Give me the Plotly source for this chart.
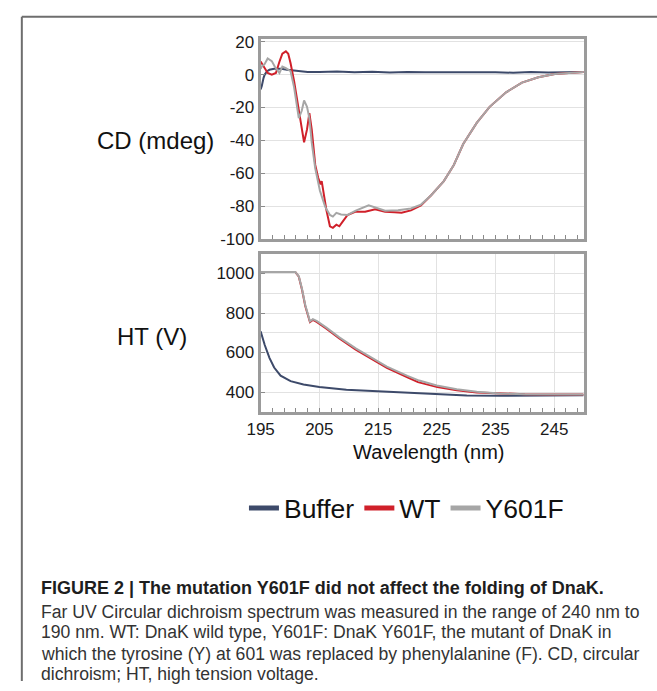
import plotly.graph_objects as go

# ---------------- data ----------------
# CD spectra (mdeg) vs wavelength (nm)
buffer_cd_x = [195.0, 195.2, 195.5, 195.7, 196.1, 196.5, 197.3, 198.5, 199.5, 200.5, 201.5, 203.0,
               205.0, 208.0, 211.0, 214.0, 217.0, 220.0, 223.0, 226.0, 229.0, 232.0, 235.0, 238.0,
               241.0, 244.0, 247.0, 250.0]
buffer_cd_y = [-9.0, -6.9, -2.0, 0.0, 2.0, 2.9, 3.5, 3.5, 3.0, 2.5, 2.0, 1.5,
               1.6, 1.8, 1.4, 1.7, 1.3, 1.6, 1.4, 1.5, 1.2, 1.6, 1.4, 1.1,
               1.5, 1.3, 1.6, 1.6]

wt_cd_x = [195.0, 195.2, 195.7, 196.2, 196.9, 197.6, 198.2, 198.7, 199.3, 199.7, 200.1, 200.7,
           201.5, 202.05, 202.4, 202.9, 203.3, 203.7, 204.3, 204.8, 205.2, 205.4, 205.7, 206.2,
           206.8, 207.3, 207.9, 208.4, 209.0, 209.8, 211.2, 212.8, 214.5, 216.2, 217.8, 219.0,
           220.6, 222.3, 224.0, 226.2, 227.9, 229.5, 231.8, 234.0, 236.8, 239.5, 242.3, 245.1,
           247.5, 250.0]
wt_cd_y = [8.0, 6.9, 3.9, 1.0, 0.0, 1.0, 7.8, 12.7, 14.1, 12.7, 6.9, -4.0,
           -21.6, -33.3, -41.2, -33.3, -23.5, -33.3, -54.9, -62.7, -66.7, -64.7, -72.5, -82.4,
           -92.2, -93.1, -91.2, -92.2, -89.2, -85.3, -83.3, -83.3, -81.8, -83.3, -83.7, -84.0,
           -82.5, -79.5, -73.5, -64.7, -54.9, -42.2, -29.4, -19.6, -10.8, -4.9, -1.6, 0.4,
           1.0, 1.6]

y601f_cd_x = [195.0, 195.2, 195.67, 196.2, 196.9, 197.4, 198.2, 198.7, 199.3, 200.1, 200.7, 201.2,
              201.5, 202.0, 202.4, 202.9, 203.3, 203.7, 204.3, 205.1, 206.0, 206.8, 207.3, 207.9,
              208.7, 209.8, 211.2, 213.4, 214.7, 216.2, 218.4, 220.6, 222.3, 224.0, 226.2, 227.9,
              229.5, 231.8, 234.0, 236.8, 239.5, 242.3, 245.1, 247.5, 250.0]
y601f_cd_y = [3.5, 4.9, 6.3, 9.8, 8.2, 4.9, 1.0, 4.9, 3.9, 2.0, -7.8, -20.6,
              -26.5, -22.0, -15.7, -19.6, -26.5, -41.2, -56.9, -70.6, -80.4, -85.3, -86.3, -84.0,
              -85.0, -85.3, -82.7, -79.4, -80.8, -82.7, -82.4, -81.4, -79.0, -73.5, -64.7, -54.9,
              -42.2, -29.4, -19.6, -10.8, -4.9, -1.6, 0.4, 1.0, 1.6]

# HT voltage (V) vs wavelength (nm)
buffer_ht_x = [195.0, 195.7, 196.5, 197.3, 198.4, 200.1, 202.3, 205.0, 209.6, 215.1, 221.8, 225.1,
               230.1, 235.7, 240.0, 245.0, 250.0]
buffer_ht_y = [707, 638, 573, 524, 483, 455, 438, 425, 412, 404, 392, 386,
               382, 381, 381, 382, 384]

wt_ht_x = [195.0, 200.9, 201.5, 202.05, 202.6, 203.2, 203.4, 203.9, 204.6, 206.2, 208.4, 211.2,
           214.0, 216.5, 220.0, 221.8, 225.1, 228.4, 231.8, 235.7, 240.0, 245.0, 250.0]
wt_ht_y = [1008, 1008, 984, 918, 836, 770, 754, 765, 754, 721, 671, 614,
           565, 522, 474, 450, 425, 409, 398, 392, 389, 388, 388]

y601f_ht_x = [195.0, 200.9, 201.5, 202.05, 202.6, 203.2, 203.4, 203.9, 204.6, 206.2, 208.4, 211.2,
              214.0, 216.5, 220.0, 222.0, 225.0, 228.4, 231.8, 235.7, 240.0, 245.0, 250.0]
y601f_ht_y = [1008, 1008, 986, 922, 840, 774, 758, 769, 759, 726, 677, 621,
              572, 529, 482, 458, 433, 414, 401, 393, 389, 388, 388]

series_names = ["Buffer", "WT", "Y601F"]
series_colors = ["#3d4a6a", "#d0202a", "#a6a6a6"]

x_range = [195, 250]
x_tickvals = [195, 205, 215, 225, 235, 245]
x_ticktext = ["195", "205", "215", "225", "235", "245"]
cd_range = [-100, 21.5]
cd_tickvals = [-100, -80, -60, -40, -20, 0, 20]
cd_ticktext = ["-100", "-80", "-60", "-40", "-20", "0", "20"]
ht_range = [300, 1100]
ht_tickvals = [400, 600, 800, 1000]
ht_ticktext = ["400", "600", "800", "1000"]

caption_lines = [
    "<b>FIGURE 2 | The mutation Y601F did not affect the folding of DnaK.</b>",
    "Far UV Circular dichroism spectrum was measured in the range of 240 nm to",
    "190 nm. WT: DnaK wild type, Y601F: DnaK Y601F, the mutant of DnaK in",
    "which the tyrosine (Y) at 601 was replaced by phenylalanine (F). CD, circular",
    "dichroism; HT, high tension voltage.",
]

# ---------------- figure ----------------
W, H = 657, 691
def px(x):
    return x / W
def py(y):
    return 1 - y / H

FONT = "Liberation Sans, Arial, sans-serif"
GRID = "#e2e2e2"
FRAME = "#9b9b9b"
TICKC = "#8a8a8a"

fig = go.Figure()

cd_data = [(buffer_cd_x, buffer_cd_y), (wt_cd_x, wt_cd_y), (y601f_cd_x, y601f_cd_y)]
ht_data = [(buffer_ht_x, buffer_ht_y), (wt_ht_x, wt_ht_y), (y601f_ht_x, y601f_ht_y)]

for (xs, ys), name, col in zip(cd_data, series_names, series_colors):
    fig.add_trace(go.Scatter(x=xs, y=ys, mode="lines", name=name, showlegend=False,
                             line=dict(color=col, width=2), xaxis="x", yaxis="y"))
for (xs, ys), name, col in zip(ht_data, series_names, series_colors):
    fig.add_trace(go.Scatter(x=xs, y=ys, mode="lines", name=name, showlegend=False,
                             line=dict(color=col, width=2), xaxis="x2", yaxis="y2"))
# legend entries (thicker line symbols as in the reference)
for name, col in zip(series_names, series_colors):
    fig.add_trace(go.Scatter(x=[None], y=[None], mode="lines", name=name, showlegend=True,
                             line=dict(color=col, width=5), xaxis="x2", yaxis="y2"))

xdom = [px(252), px(582)]
tickfont = dict(family=FONT, size=17, color="#1a1a1a")

fig.update_layout(
    width=W, height=H,
    margin=dict(l=0, r=0, t=0, b=0),
    paper_bgcolor="white", plot_bgcolor="white",
    font=dict(family=FONT, color="#1a1a1a"),
    xaxis=dict(domain=xdom, anchor="y", range=x_range, showticklabels=False,
               ticks="inside", ticklen=4, tickcolor=TICKC, tick0=195, dtick=2,
               showgrid=False, zeroline=False, showline=True, mirror=True,
               linecolor=FRAME, linewidth=3),
    yaxis=dict(domain=[py(238), py(33)], anchor="x", range=cd_range,
               tickmode="array", tickvals=cd_tickvals, ticktext=cd_ticktext,
               showgrid=True, gridcolor=GRID, gridwidth=1, zeroline=False,
               ticks="inside", ticklen=4, tickcolor=TICKC,
               showline=True, mirror=True, linecolor=FRAME, linewidth=3,
               tickfont=tickfont),
    xaxis2=dict(domain=xdom, anchor="y2", range=x_range,
                tickmode="array", tickvals=x_tickvals, ticktext=x_ticktext,
                showgrid=True, gridcolor=GRID, gridwidth=1, zeroline=False,
                ticks="inside", ticklen=4, tickcolor=TICKC,
                minor=dict(tick0=195, dtick=2, ticks="inside", ticklen=4, tickcolor=TICKC,
                           showgrid=False),
                showline=True, mirror=True, linecolor=FRAME, linewidth=3,
                tickfont=tickfont),
    yaxis2=dict(domain=[py(415), py(253)], anchor="x2", range=ht_range,
                tickmode="array", tickvals=ht_tickvals, ticktext=ht_ticktext,
                showgrid=True, gridcolor=GRID, gridwidth=1, zeroline=False,
                ticks="inside", ticklen=4, tickcolor=TICKC,
                minor=dict(tick0=0, dtick=100, showgrid=True, gridcolor=GRID, ticks=""),
                showline=True, mirror=True, linecolor=FRAME, linewidth=3,
                tickfont=tickfont),
    legend=dict(orientation="h", x=px(401), y=py(514), xanchor="center", yanchor="middle",
                font=dict(family=FONT, size=26.5, color="#111111"), itemwidth=30,
                bgcolor="rgba(0,0,0,0)"),
    showlegend=True,
)

annots = [
    dict(text="CD (mdeg)", x=px(145), y=py(137), size=24),
    dict(text="HT (V)", x=px(141), y=py(338), size=24),
    dict(text="Wavelength (nm)", x=px(424), y=py(456), size=20),
]
for a in annots:
    fig.add_annotation(text=a["text"], x=a["x"], y=a["y"], xref="paper", yref="paper",
                       xanchor="center", yanchor="middle", showarrow=False,
                       font=dict(family=FONT, size=a["size"], color="#111111"))

cap_y = [596, 620, 641, 663, 684]
cap_size = [18, 17.6, 17.6, 17.6, 17.6]
for i, (line, yy, sz) in enumerate(zip(caption_lines, cap_y, cap_size)):
    fig.add_annotation(text=line, x=px(26), y=py(yy), xref="paper", yref="paper",
                       xanchor="left", yanchor="middle", showarrow=False,
                       font=dict(family=FONT, size=sz,
                                 color="#1e1e1e" if i == 0 else "#333333"))

# outer figure frame (left and top rules)
fig.add_shape(type="line", xref="paper", yref="paper", x0=px(8), x1=1, y0=py(10), y1=py(10),
              line=dict(color="#6e6e6e", width=2))
fig.add_shape(type="line", xref="paper", yref="paper", x0=px(8), x1=px(8), y0=py(10), y1=0,
              line=dict(color="#6e6e6e", width=2))

# let the figure fill the 657x691 window exactly (no default body margin / scrollbars)
page_js = ("document.body.style.margin='0';"
           "document.body.style.overflow='hidden';"
           "document.documentElement.style.overflow='hidden';")
fig.write_html("out.html", post_script=page_js, config={"displayModeBar": False})
